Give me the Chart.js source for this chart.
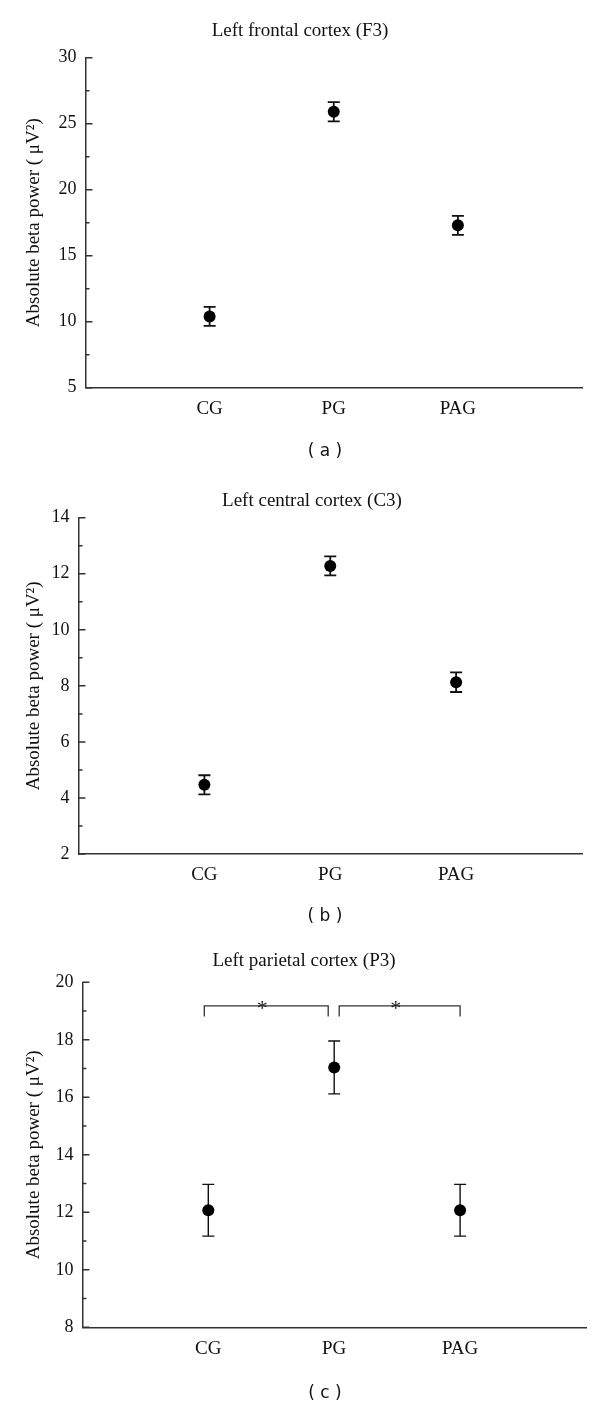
<!DOCTYPE html>
<html>
<head>
<meta charset="utf-8">
<script src="https://cdn.jsdelivr.net/npm/chart.js@4.4.0/dist/chart.umd.min.js"></script>
<style>
  body { margin: 0; background: #fff; width: 600px; }
  .panel { position: relative; width: 600px; }
  canvas { display: block; }
  .cap { position: absolute; width: 60px; margin-left: -30px; text-align: center;
         font: 17px "DejaVu Sans", sans-serif; color: #111; line-height: 20px; margin-top: -10px; }
</style>
</head>
<body>
<div class="panel" style="height:470px"><canvas id="f3" width="600" height="470"></canvas><div class="cap" style="left:325px;top:450px">( a )</div></div>
<div class="panel" style="height:470px"><canvas id="c3" width="600" height="470"></canvas><div class="cap" style="left:325px;top:445px">( b )</div></div>
<div class="panel" style="height:466px"><canvas id="p3" width="600" height="466"></canvas><div class="cap" style="left:325px;top:452px">( c )</div></div>
<script>
const categories = ['CG', 'PG', 'PAG'];

// left frontal cortex (F3)
const f3Means = [10.4, 25.9, 17.3];
const f3Errors = [0.72, 0.73, 0.72];
const f3Ticks = [5, 10, 15, 20, 25, 30];

// left central cortex (C3)
const c3Means = [4.47, 12.28, 8.13];
const c3Errors = [0.34, 0.34, 0.35];
const c3Ticks = [2, 4, 6, 8, 10, 12, 14];

// left parietal cortex (P3)
const p3Means = [12.07, 17.04, 12.07];
const p3Errors = [0.9, 0.92, 0.9];
const p3Ticks = [8, 10, 12, 14, 16, 18, 20];
const p3Significance = [['CG', 'PG', '*'], ['PG', 'PAG', '*']];

const serif = '"Liberation Serif", "Times New Roman", serif';
const axisColor = '#333';
const titleSize = 19;

// error bars + significance brackets, drawn under the points
const errorBars = {
  id: 'errorBars',
  beforeDatasetsDraw(chart, args, opts) {
    const {ctx, scales: {x, y}} = chart;
    const ds = chart.data.datasets[0];
    ctx.save();
    ctx.strokeStyle = '#111';
    ctx.lineWidth = opts.lineWidth || 1.8;
    ds.data.forEach((p, i) => {
      const e = ds.errors[i];
      const px = x.getPixelForValue(p.x);
      const top = y.getPixelForValue(p.y + e);
      const bot = y.getPixelForValue(p.y - e);
      const w = opts.cap || 6;
      ctx.beginPath();
      ctx.moveTo(px, top); ctx.lineTo(px, bot);
      ctx.moveTo(px - w, top); ctx.lineTo(px + w, top);
      ctx.moveTo(px - w, bot); ctx.lineTo(px + w, bot);
      ctx.stroke();
    });
    (opts.brackets || []).forEach(([a, b, mark]) => {
      const x1 = x.getPixelForValue(categories.indexOf(a) + 1) - 4;
      const x2 = x.getPixelForValue(categories.indexOf(b) + 1) - 6;
      const xa = a === 'PG' ? x1 + 9 : x1;
      const xb = b === 'PAG' ? x2 + 6 : x2;
      const yl = y.getPixelForValue(opts.bracketY);
      const yLeg = y.getPixelForValue(opts.bracketY - 0.37);
      ctx.lineWidth = 1.3;
      ctx.strokeStyle = axisColor;
      ctx.beginPath();
      ctx.moveTo(xa, yLeg); ctx.lineTo(xa, yl); ctx.lineTo(xb, yl); ctx.lineTo(xb, yLeg);
      ctx.stroke();
      ctx.fillStyle = '#222';
      ctx.font = '22px ' + serif;
      ctx.textAlign = 'center';
      ctx.textBaseline = 'middle';
      ctx.fillText(mark, (xa + xb) / 2 - 4, yl + 3);
    });
    ctx.restore();
  }
};

// tick marks point into the plot, majors longer than minors
const innerTicks = {
  id: 'innerTicks',
  afterDraw(chart) {
    const {ctx, chartArea, scales: {y}} = chart;
    const vals = y.ticks.map(t => t.value);
    const step = vals[1] - vals[0];
    ctx.save();
    ctx.strokeStyle = axisColor;
    ctx.lineWidth = 1.5;
    ctx.beginPath();
    vals.forEach((v, i) => {
      const py = y.getPixelForValue(v);
      ctx.moveTo(chartArea.left, py); ctx.lineTo(chartArea.left + 7, py);
      if (i < vals.length - 1) {
        const pm = y.getPixelForValue(v + step / 2);
        ctx.moveTo(chartArea.left, pm); ctx.lineTo(chartArea.left + 4, pm);
      }
    });
    ctx.stroke();
    ctx.restore();
  }
};

function makePanel(id, title, means, errors, ticks, box, extra) {
  const padL = 2 * box.titleX - box.right;
  const half = titleSize * 0.6;
  new Chart(document.getElementById(id), {
    type: 'scatter',
    data: {
      datasets: [{
        data: means.map((m, i) => ({x: i + 1, y: m})),
        errors: errors,
        pointRadius: 6,
        pointHoverRadius: 6,
        backgroundColor: '#000',
        borderWidth: 0
      }]
    },
    plugins: [errorBars, innerTicks],
    options: {
      responsive: false,
      animation: false,
      layout: {
        padding: {left: padL, right: 600 - box.right, top: 0, bottom: box.h - box.bottom - 30}
      },
      plugins: {
        legend: {display: false},
        tooltip: {enabled: false},
        title: {
          display: true,
          text: title,
          color: '#111',
          font: {family: serif, size: titleSize, weight: 'normal', lineHeight: 1.2},
          padding: {top: box.titleY - half, bottom: box.top - box.titleY - half}
        },
        errorBars: extra || {}
      },
      scales: {
        x: {
          type: 'linear',
          min: 0,
          max: 4,
          afterBuildTicks: s => { s.ticks = categories.map((c, i) => ({value: i + 1})); },
          afterFit: s => { s.height = 30; },
          ticks: {
            callback: v => categories[v - 1],
            color: '#111',
            font: {family: serif, size: 19},
            padding: 10,
            maxRotation: 0,
            autoSkip: false
          },
          grid: {display: false, drawTicks: false},
          border: {display: true, color: axisColor, width: 1.5}
        },
        y: {
          min: ticks[0],
          max: ticks[ticks.length - 1],
          afterBuildTicks: s => { s.ticks = ticks.map(v => ({value: v})); },
          afterFit: s => { s.width = box.left - padL; },
          ticks: {
            color: '#111',
            font: {family: serif, size: 18},
            padding: 9
          },
          grid: {display: false, drawTicks: false},
          border: {display: true, color: axisColor, width: 1.5},
          title: {
            display: true,
            text: 'Absolute beta power ( μV²)',
            color: '#111',
            font: {family: serif, size: 19},
            padding: {top: 34.5 - padL - 11.4, bottom: 0}
          }
        }
      }
    }
  });
}

makePanel('f3', 'Left frontal cortex (F3)', f3Means, f3Errors, f3Ticks,
  {h: 470, titleX: 300, titleY: 31.5, top: 57.7, bottom: 387.7, left: 85.5, right: 582});
makePanel('c3', 'Left central cortex (C3)', c3Means, c3Errors, c3Ticks,
  {h: 470, titleX: 312, titleY: 30.7, top: 47.7, bottom: 384, left: 78.5, right: 582});
makePanel('p3', 'Left parietal cortex (P3)', p3Means, p3Errors, p3Ticks,
  {h: 466, titleX: 304, titleY: 20.7, top: 42.3, bottom: 387.3, left: 82.4, right: 586},
  {brackets: p3Significance, bracketY: 19.18, lineWidth: 1.4});
</script>
</body>
</html>
